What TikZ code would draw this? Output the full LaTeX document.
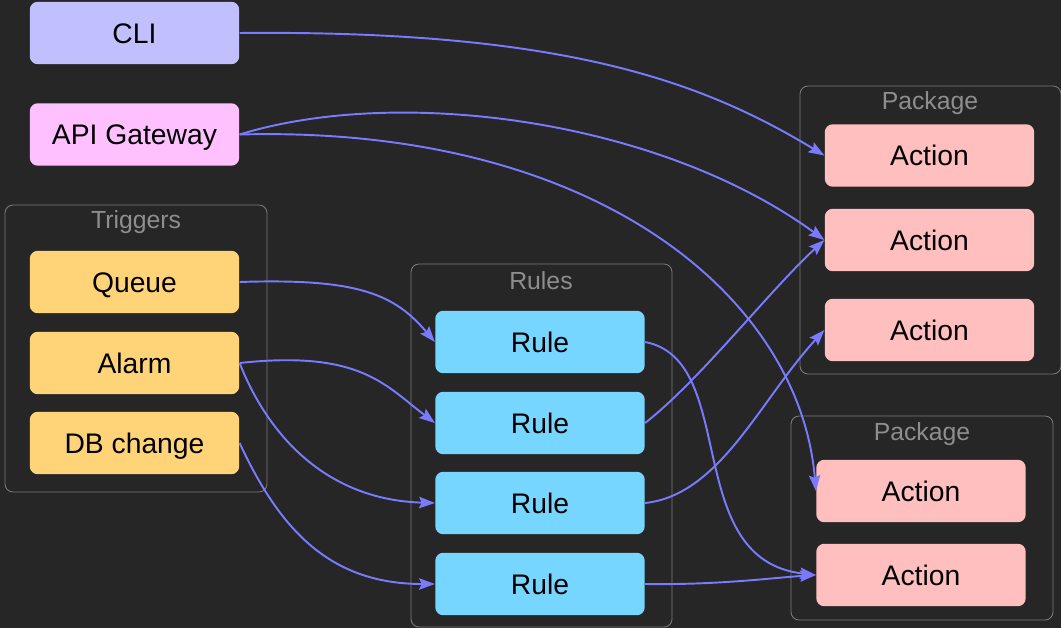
\documentclass[tikz,border=0pt]{standalone}
\usepackage{fontspec}
\setmainfont{Liberation Sans}
\usetikzlibrary{arrows.meta}
\definecolor{bgdark}{HTML}{262626}
\definecolor{linkblue}{HTML}{7A7AFF}
\definecolor{cligray}{HTML}{C0C0FF}
\definecolor{apipink}{HTML}{FFC0FF}
\definecolor{trigorange}{HTML}{FFD479}
\definecolor{rulecyan}{HTML}{76D6FF}
\definecolor{actpink}{HTML}{FFBFBF}
\definecolor{framegray}{HTML}{7A7A7A}
\definecolor{titlegray}{HTML}{8E8E8E}
\begin{document}
\begin{tikzpicture}[x=0.02cm,y=-0.02cm,
  box/.style={rounded corners=0.16cm,minimum width=4.19cm,minimum height=1.25cm,
    inner sep=0pt,text=black,text height=11.6pt,text depth=0pt,
    font=\fontsize{16.1}{18}\selectfont},
  groupbox/.style={draw=framegray,line width=0.5pt,rounded corners=0.16cm},
  grouplabel/.style={text=titlegray,font=\fontsize{14.1}{16}\selectfont},
  link/.style={draw=linkblue,line width=1.1pt,-{Stealth[length=9pt,width=6.5pt,inset=1.5pt]}}]
\useasboundingbox[fill=bgdark] (0,0) rectangle (1061,628);
%
\draw[groupbox] (5,205) rectangle (267,492);
\node[grouplabel] (trigl) at (136,222) {Triggers};
\draw[groupbox] (411,264) rectangle (672,627);
\node[grouplabel] (rulel) at (541,281) {Rules};
\draw[groupbox] (800,86) rectangle (1061,374);
\node[grouplabel] (pkgla) at (930,103) {Package};
\draw[groupbox] (791,416) rectangle (1053,620);
\node[grouplabel] (pkglb) at (922,434) {Package};
%
\node[box,fill=cligray] (cli) at (134.5,33) {CLI};
\node[box,fill=apipink] (api) at (134.5,134.5) {API Gateway};
%
\node[box,fill=trigorange] (queue) at (134.5,282) {Queue};
\node[box,fill=trigorange] (alarm) at (134.5,363) {Alarm};
\node[box,fill=trigorange] (dbch) at (134.5,443) {DB change};
%
\node[box,fill=rulecyan] (rulea) at (540,342) {Rule};
\node[box,fill=rulecyan] (ruleb) at (540,423) {Rule};
\node[box,fill=rulecyan] (rulec) at (540,503) {Rule};
\node[box,fill=rulecyan] (ruled) at (540,584) {Rule};
%
\node[box,fill=actpink] (acta) at (929.5,155.5) {Action};
\node[box,fill=actpink] (actb) at (929.5,240) {Action};
\node[box,fill=actpink] (actc) at (929.5,330) {Action};
\node[box,fill=actpink] (actd) at (921,491) {Action};
\node[box,fill=actpink] (acte) at (921,575) {Action};
%
\draw[link] (cli.east) .. controls (560,30) and (700,80) .. (acta.west);
\draw[link] (api.east) .. controls (400,85) and (660,120) .. (actb.west);
\draw[link] (api.east) .. controls (600,125) and (800,300) .. (actd.west);
%
\draw[link] (queue.east) .. controls (360,278) and (395,295) .. (rulea.west);
\draw[link] (alarm.east) .. controls (360,350) and (385,385) .. (ruleb.west);
\draw[link] (alarm.east) .. controls (270,440) and (330,500) .. (rulec.west);
\draw[link] (dbch.east) .. controls (280,530) and (330,584) .. (ruled.west);
%
\draw[link] (rulea.east) .. controls (740,360) and (680,560) .. (acte.west);
\draw[link] (ruleb.east) .. controls (700,380) and (770,290) .. (actb.west);
\draw[link] (rulec.east) .. controls (720,495) and (760,400) .. (actc.west);
\draw[link] (ruled.east) .. controls (720,585) and (770,578) .. (acte.west);
\end{tikzpicture}
\end{document}
